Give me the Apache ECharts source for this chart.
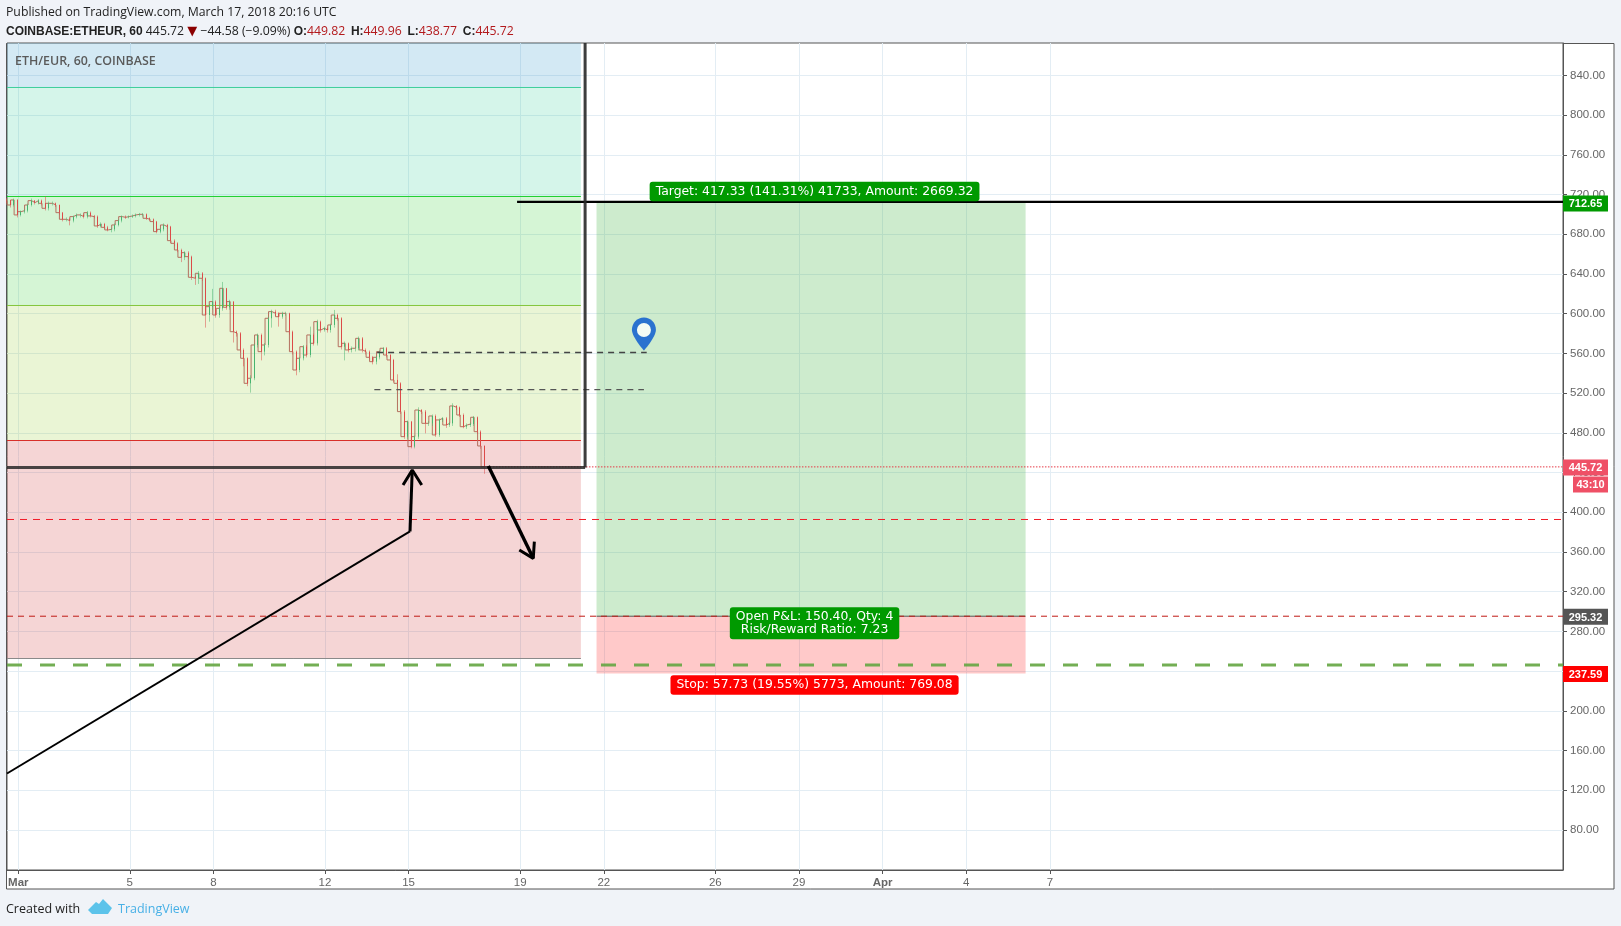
<!DOCTYPE html>
<html><head><meta charset="utf-8"><style>html,body{margin:0;padding:0;background:#f0f3f8}#c{width:1621px;height:926px}</style>
<script src="https://cdn.jsdelivr.net/npm/echarts@6/dist/echarts.min.js"></script></head>
<body><div id="c"></div><script>
// ---- axes
const xTickDays=[1,5,8,12,15,19,22,26,29,32,35,38];
const xTickLabels=['Mar','5','8','12','15','19','22','26','29','Apr','4','7'];
const yTicks=[80,120,160,200,240,280,320,360,400,440,480,520,560,600,640,680,720,760,800,840];
const xMin=0.595,xMax=56.405,yMin=39.69,yMax=872.68;
// ---- candles (3-hour samples)
const candleStart=0.6;
const candleStep=0.125;
const opens=[715,713.9,709.5,714.6,699.5,702.8,703.8,709.5,713.9,711.9,713.9,711.2,706.2,711.2,711.2,709.5,701.8,695.1,695.1,693.8,697.8,699.5,699.5,697.8,701.8,698.5,697.8,688.4,690.4,687,684.4,685,689.4,693.8,697.8,697.1,697.8,698.5,699.5,700.1,700.1,696.1,695.1,692.8,682.7,685,689.4,687.7,673.6,670.9,664.2,656.8,661.5,657.5,636.7,635.7,640.7,635.7,598.7,607.1,612.2,598.7,605.4,625.6,606.5,612.2,581.9,580.3,563.5,555.1,529.9,535,568.5,578.6,561.8,568.5,595.4,602.1,600.4,597,600.4,600.4,581.9,561.8,543.3,555.1,566.8,558.4,578.6,570.2,592,583.6,585.3,583.6,588.7,598.7,595.4,566.8,570.2,563.5,565.2,565.2,575.2,563.5,561.8,556.1,551.7,556.1,561.8,565.2,558.4,553.4,533.3,529.9,501.4,476.2,491.3,466.1,476.2,503,501.4,489.6,489.6,497,477.9,493,494.6,487.9,489.6,507.1,505.7,498,486.2,487.9,488.9,495.7,481.2,466.8];
const closes=[713.9,709.5,714.6,699.5,702.8,703.8,709.5,713.9,711.9,713.9,711.2,706.2,711.2,711.2,709.5,701.8,695.1,695.1,693.8,697.8,699.5,699.5,697.8,701.8,698.5,697.8,688.4,690.4,687,684.4,685,689.4,693.8,697.8,697.1,697.8,698.5,699.5,700.1,700.1,696.1,695.1,692.8,682.7,685,689.4,687.7,673.6,670.9,664.2,656.8,661.5,657.5,636.7,635.7,640.7,635.7,598.7,607.1,612.2,598.7,605.4,625.6,606.5,612.2,581.9,580.3,563.5,555.1,529.9,535,568.5,578.6,561.8,568.5,595.4,602.1,600.4,597,600.4,600.4,581.9,561.8,543.3,555.1,566.8,558.4,578.6,570.2,592,583.6,585.3,583.6,588.7,598.7,595.4,566.8,570.2,563.5,565.2,565.2,575.2,563.5,561.8,556.1,551.7,556.1,561.8,565.2,558.4,553.4,533.3,529.9,501.4,476.2,491.3,466.1,476.2,503,501.4,489.6,489.6,497,477.9,493,494.6,487.9,489.6,507.1,505.7,498,486.2,487.9,488.9,495.7,481.2,466.8,445.72];
const highs=[716.5,714.5,716,715.5,704,705,711,716,714.5,715.5,715,718,713,713,712,710,702.5,697,696.5,699,701,701,701,703.5,703,699.5,699,692,691.5,688.5,686.5,691,695,699,699,699,700,701,701.5,701.5,701,697,696,693.5,686.5,691,690.5,688.5,675,672,665.5,663,663,658.5,638,643,642,636.5,610,625,613.5,607,632,626,614,612.5,583,581.5,565,556,538,570,580,580,570.5,597,604,604,601.5,602,602,601,583,563,556.5,568.5,568.5,587,580,594,593,587,587,590,603.8,600,596.5,572,571,567,567,577,576.5,565,563,557.5,557.5,563,566.5,566.5,559.5,554.5,539,531,503,492.5,492,477.5,505.7,504,503,492,498.5,498.5,494.5,496,496,491,509.8,508,506.5,499.5,489.5,490.5,497,496.5,482.5,467.5];
const lows=[711,707,708,697,698,701,702,708,710,710,709,704,704,709,707.5,700,693,693,689,692,696,697,696,696,697,696,686.5,687,685.5,683,682,683,688,692,695.5,696,696.5,697,698,698,694.5,693.5,691,681,681,683,685.5,671,668,662,652,654,655,634,629,630,633,586,592,604,596,596,603,604,604,571,577,561,547,527,520.5,533,566,553,558,566,586,598,587,595,598,579,559,538,541,553,556,556,568,568,581,582,581,581,586,593,564,553,561,561,562,563,561,559,554,549,549,554,560,556,551,531,527,499,474,474,464.4,464.4,474,499,479.5,487,487,476,476,491,485,486,487,503,496,484.6,484,486,487,479,464,438.77];
// ---- fibonacci bands
const fibLeft=0.595, fibRight=21.18;
const fibTops=[872.68,827.86,718.07,608.28,472.3];
const fibBottoms=[827.86,718.07,608.28,472.3,252.72];
const fibLines=[827.86,718.07,608.28,472.3,252.72];
// ---- position box
const boxLeft=21.74, boxRight=37.13;
const entryPrice=295.32, targetPrice=712.65, stopPrice=237.59, lastPrice=445.72;
// ---- drawn levels
const redLevel=392.73, greenLevel=246.2, frameLevel=445.1, frameDay=21.33, targetLineStart=18.89, lastStart=17.81;
const dash1=[[13.87,561],[23.54,561]];
const dash2=[[13.77,523.5],[23.44,523.5]];
const trendLeg=[[0.595,136.9],[15.05,380.7]];
const arrowUpShaft=[[15.05,380.7],[15.13,442.6]];
const arrowUpHead=[[14.8,427.5],[15.13,442.6],[15.47,427.5]];
const arrowDownShaft=[[17.86,446.6],[19.47,353.6]];
const arrowDownHead=[[18.97,362],[19.47,353.6],[19.51,370.4]];
const pinDay=23.44, pinPrice=579.5, pinHolePrice=583.6;
// ---- tags
const axisTagPrices=[712.65,445.72,295.32,237.59];
const axisTagTexts=['712.65','445.72','295.32','237.59'];
const countdownText='43:10';
const targetText='Target: 417.33 (141.31%) 41733, Amount: 2669.32';
const pnlText='Open P&L: 150.40, Qty: 4\nRisk/Reward Ratio: 7.23';
const stopText='Stop: 57.73 (19.55%) 5773, Amount: 769.08';
const boxTagDay=29.56, targetTagPrice=723.2, pnlTagPrice=288.2, stopTagPrice=226;

// ---- styles
const fibFill=['rgba(35,145,200,.2)','rgba(45,205,150,.2)','rgba(45,205,45,.2)','rgba(150,205,45,.2)','rgba(205,45,45,.2)'];
const fibStroke=['#3fcf9c','#1fd02f','#84c63c','#d8302a','#8a8a8a'];
const axisTagColors=['#009a00','#ef5066','#555555','#ff0000'];
const up='#47b46e',down='#dc4a48',upW='rgba(71,180,110,.5)',downW='rgba(220,74,72,.5)';
const tagFont='12.4px "DejaVu Sans",Verdana,sans-serif';

const candleDays=closes.map((_,i)=>candleStart+i*candleStep);
const wickData=closes.map((c,i)=>[candleDays[i],opens[i],c,lows[i],highs[i]]);
const bodyData=closes.map((c,i)=>[candleDays[i],opens[i],c,Math.min(opens[i],c),Math.max(opens[i],c)]);
const closePath=closes.map((c,i)=>[candleDays[i],c]);

function line(data,color,width,type,z){return{type:'line',data,symbol:'none',silent:true,z:z||5,animation:false,clip:true,
  lineStyle:{color,width,type:type||'solid',cap:'butt'}}}

function rectSeries(rows,fills,z){return{type:'custom',z,silent:true,animation:false,data:rows,
  renderItem(p,api){const a=api.coord([api.value(0),api.value(1)]),b=api.coord([api.value(2),api.value(3)]);
    return{type:'rect',shape:{x:a[0],y:a[1],width:b[0]-a[0],height:b[1]-a[1]},style:{fill:fills[p.dataIndex]}}}}}

const option={animation:false,backgroundColor:'transparent',
 grid:{left:7,right:58,top:43,bottom:56,show:true,borderColor:'#555',borderWidth:1,backgroundColor:'#fff'},
 xAxis:{type:'value',min:xMin,max:xMax,
  axisLine:{onZero:false,lineStyle:{color:'#555'}},
  axisTick:{show:true,length:4,customValues:xTickDays,lineStyle:{color:'#555'}},
  splitLine:{show:true,lineStyle:{color:'#e3edf4',width:1}},
  axisLabel:{customValues:xTickDays,margin:7,color:'#666',fontFamily:'"Liberation Sans",Arial',fontSize:11.5,
    rich:{b:{fontWeight:'bold',color:'#666',fontFamily:'"Liberation Sans",Arial',fontSize:11.5}},
    formatter(v){const t=xTickLabels[xTickDays.indexOf(v)];return /[A-Z]/.test(t)?'{b|'+t+'}':t}}},
 yAxis:{type:'value',position:'right',min:yMin,max:yMax,
  axisLine:{show:true,lineStyle:{color:'#555'}},
  axisTick:{show:true,length:4,customValues:yTicks,lineStyle:{color:'#555'}},
  splitLine:{show:true,lineStyle:{color:'#e3edf4',width:1}},
  axisLabel:{customValues:yTicks,margin:7,padding:[4,0,0,0],color:'#666',fontFamily:'"Liberation Sans",Arial',fontSize:11.5,formatter:v=>v.toFixed(2)}},
 series:[
  rectSeries(fibTops.map((t,i)=>[fibLeft,t,fibRight,fibBottoms[i]]),fibFill,1),
  rectSeries([[boxLeft,targetPrice,boxRight,entryPrice],[boxLeft,entryPrice,boxRight,stopPrice]],['rgba(55,175,55,.25)','rgba(255,0,0,.21)'],1),
  ...fibLines.map((v,i)=>line([[fibLeft,v],[fibRight,v]],fibStroke[i],1,'solid',2)),
  {type:'line',z:3,silent:true,animation:false,symbol:'none',step:'start',data:closePath,lineStyle:{color:'#b4705f',width:1}},
  {type:'candlestick',z:3,silent:true,animation:false,barWidth:1,data:wickData,
    itemStyle:{color:upW,color0:downW,borderColor:upW,borderColor0:downW,borderWidth:1}},
  {type:'candlestick',z:4,silent:true,animation:false,barWidth:1,data:bodyData,
    itemStyle:{color:up,color0:down,borderColor:up,borderColor0:down,borderWidth:1}},
  line([[lastStart,lastPrice],[xMax,lastPrice]],'#e53945',1,[1.5,1.5]),
  line([[xMin,redLevel],[xMax,redLevel]],'#f01c28',1,[7,6]),
  line([[boxLeft,entryPrice],[boxRight,entryPrice]],'#555',1),
  line([[xMin,entryPrice],[xMax,entryPrice]],'#c01a14',1,[6,5]),
  line([[xMin,greenLevel],[xMax,greenLevel]],'rgba(100,165,65,.9)',3,[15,18]),
  line(dash1,'#444',1.4,[6,5]),
  line(dash2,'#555',1.4,[6,5]),
  line([[targetLineStart,targetPrice],[xMax,targetPrice]],'#000',2.4,'solid',6),
  line([[xMin,frameLevel],[frameDay,frameLevel]],'rgba(40,40,40,.85)',3,'solid',6),
  line([[frameDay,yMax],[frameDay,frameLevel]],'rgba(40,40,40,.9)',3,'solid',6),
  line(trendLeg,'#000',2,'solid',6),
  line(arrowUpShaft,'#000',3,'solid',6),
  line(arrowUpHead,'#000',3,'solid',6),
  line(arrowDownShaft,'#000',3.4,'solid',6),
  line(arrowDownHead,'#000',3,'solid',6),
  {type:'scatter',z:7,silent:true,animation:false,data:[[pinDay,pinPrice]],symbolSize:[24,33],
    symbol:'path://M12 0C5.4 0 0 5.2 0 11.8 0 19 12 32 12 32S24 19 24 11.8C24 5.2 18.6 0 12 0Z',itemStyle:{color:'#2a72cf',opacity:1}},
  {type:'scatter',z:8,silent:true,animation:false,data:[[pinDay,pinHolePrice]],symbol:'circle',symbolSize:14,itemStyle:{color:'#f4fbf4',opacity:1}},
  {type:'custom',z:9,silent:true,animation:false,data:[[boxTagDay,targetTagPrice],[boxTagDay,pnlTagPrice],[boxTagDay,stopTagPrice]],
    renderItem(p,api){const c=api.coord([api.value(0),api.value(1)]);
      const texts=[targetText,pnlText,stopText],bg=['#009a00','#009a00','#ff0000'];
      return{type:'text',style:{x:c[0],y:c[1],text:texts[p.dataIndex],fill:'#fff',font:tagFont,align:'center',verticalAlign:'middle',
        lineHeight:12.5,backgroundColor:bg[p.dataIndex],borderRadius:3,padding:[3.5,6,3.5,6]}}}},
  {type:'custom',z:10,silent:true,animation:false,clip:false,data:axisTagPrices.map(v=>[xMax,v]),
    renderItem(p,api){const c=api.coord([api.value(0),api.value(1)]);const i=p.dataIndex;const cy=c[1]+(i===0?1.5:0.5);
      const kids=[{type:'rect',shape:{x:c[0],y:cy-8,width:45,height:16},style:{fill:axisTagColors[i]}},
       {type:'text',style:{x:c[0]+22.5,y:cy+1,text:axisTagTexts[i],fill:'#fff',font:'bold 11px "Liberation Sans",Arial',align:'center',verticalAlign:'middle'}}];
      if(i===1){kids.push({type:'rect',shape:{x:c[0]+10,y:cy+9,width:35,height:16},style:{fill:axisTagColors[i]}},
       {type:'text',style:{x:c[0]+27.5,y:cy+18,text:countdownText,fill:'#fff',font:'bold 11px "Liberation Sans",Arial',align:'center',verticalAlign:'middle'}});}
      return{type:'group',children:kids}}}
 ],
 graphic:[
  {type:'rect',z:-10,shape:{x:6.5,y:43.5,width:1607.5,height:845.5},style:{fill:'#fff',stroke:'#555',lineWidth:1}},
  {type:'text',left:6,top:7,style:{text:'Published on TradingView.com, March 17, 2018 20:16 UTC',fill:'#222',font:'12.25px "Open Sans",sans-serif'}},
  {type:'text',left:6,top:25,style:{fill:'#222',font:'12.25px "Open Sans",sans-serif',
    text:'{b|COINBASE:ETHEUR, 60} 445.72 {t|▼} −44.58 (−9.09%) {b|O:}{r|449.82} {b|H:}{r|449.96} {b|L:}{r|438.77} {b|C:}{q|445.72}',
    rich:{b:{fontWeight:'bold',fill:'#222',font:'bold 12.25px "Open Sans",sans-serif'},
      r:{fill:'#b3191c',font:'12.25px "Open Sans",sans-serif',padding:[0,2.5,0,0]},
      q:{fill:'#b3191c',font:'12.25px "Open Sans",sans-serif'},
      t:{fill:'#8b0000',font:'13px "DejaVu Sans",sans-serif'}}}},
  {type:'text',left:15,top:55.5,z:20,style:{text:'ETH/EUR, 60, COINBASE',fill:'#5a5a5a',font:'600 12.4px "Open Sans",sans-serif'}},
  {type:'text',left:6,top:903,style:{text:'Created with',fill:'#222',font:'12.5px "Open Sans",sans-serif'}},
  {type:'polygon',shape:{points:[[88,910],[96,902],[99,904],[103,899],[112,908],[108,914],[92,914]]},style:{fill:'#5cc3ea'}},
  {type:'text',left:118,top:903,style:{text:'TradingView',fill:'#48b0e6',font:'12.5px "Open Sans",sans-serif'}}
 ]};
echarts.init(document.getElementById('c')).setOption(option);
</script></body></html>
